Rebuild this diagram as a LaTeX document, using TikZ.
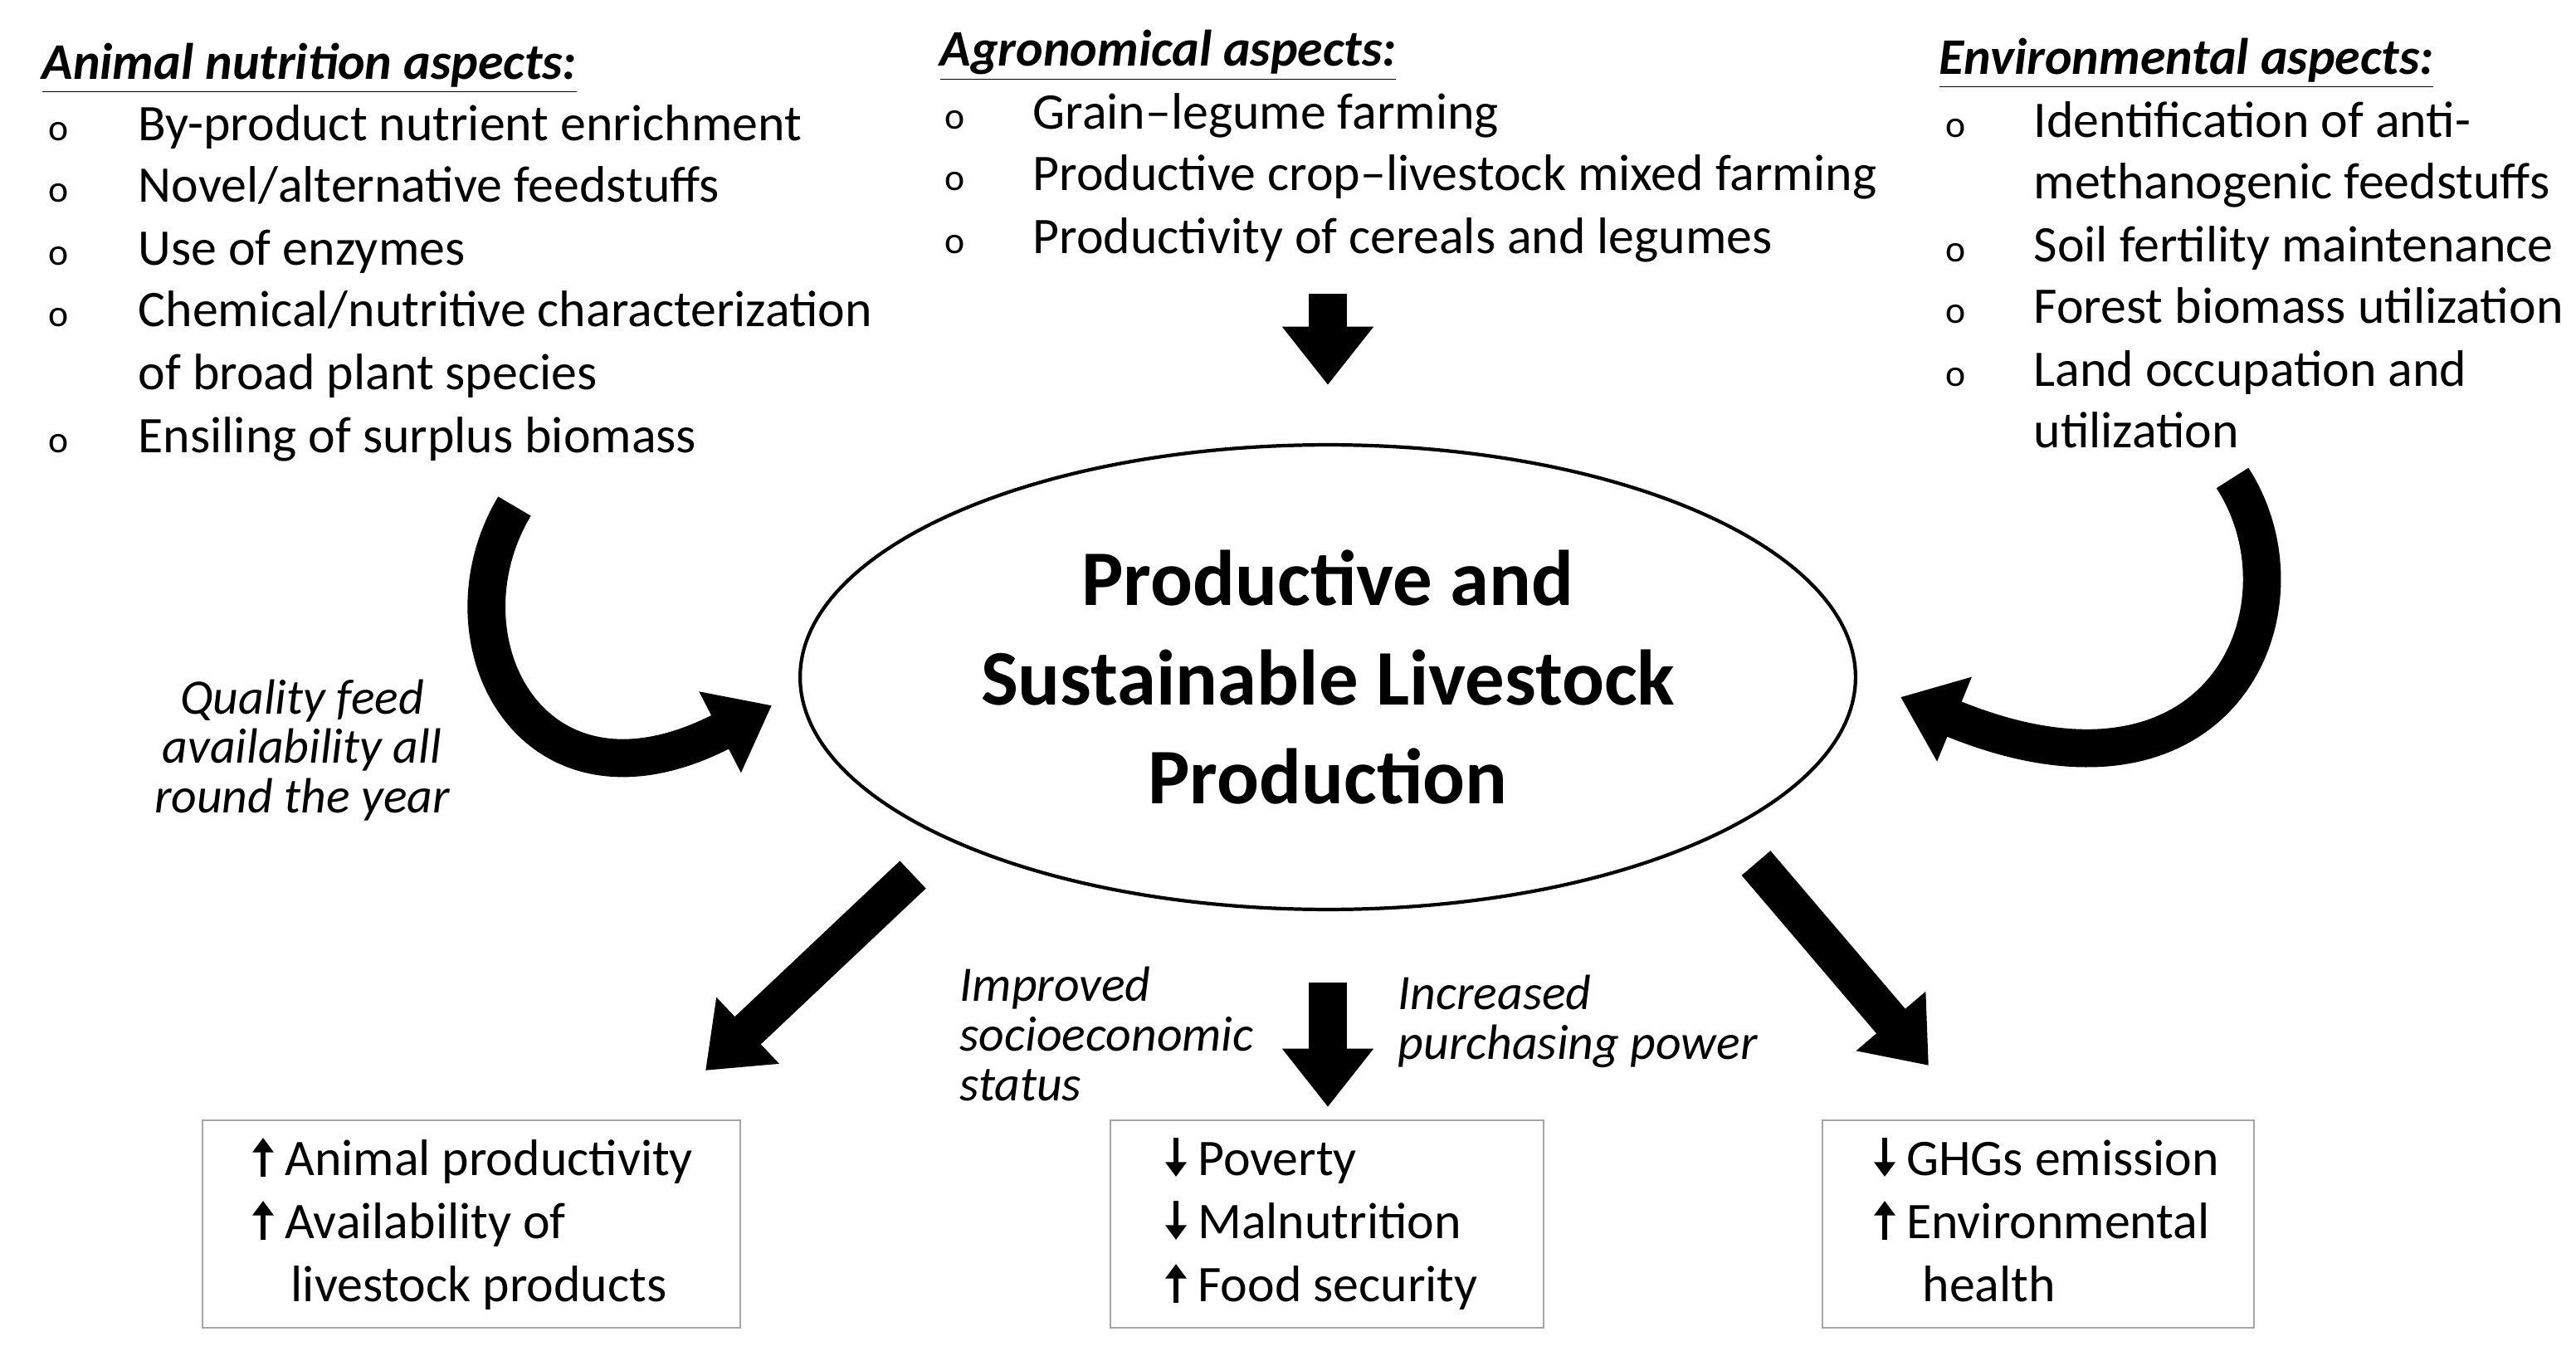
\documentclass[tikz,border=0pt]{standalone}
\usepackage{fontspec}
\setmainfont{Carlito}
\usetikzlibrary{arrows.meta,shapes.geometric}
\newcommand{\uparr}{\tikz[baseline=0pt,x=1cm,y=1cm]\draw[line width=1.8pt,-{Triangle[width=7pt,length=5pt]}] (0,-0.02) -- (0,0.45);}
\newcommand{\dnarr}{\tikz[baseline=0pt,x=1cm,y=1cm]\draw[line width=1.8pt,-{Triangle[width=7pt,length=5pt]}] (0,0.45) -- (0,-0.02);}
\tikzset{
    txt/.style={anchor=base west, inner sep=0pt, font=\fontsize{17.6}{21}\selectfont},
    bul/.style={anchor=base west, inner sep=0pt, font=\fontsize{13}{21}\selectfont},
    head/.style={txt, font=\fontsize{17.6}{21}\selectfont\bfseries\itshape},
    note/.style={anchor=base west, inner sep=0pt, align=left, font=\fontsize{17}{17}\selectfont\itshape},
    bigarrow/.style={line width=13pt, -{Triangle[width=30pt,length=20pt]}},
    outbox/.style={draw=gray!70, line width=0.6pt}
}
\begin{document}
\begin{tikzpicture}[x=0.02cm, y=-0.02cm]
    \useasboundingbox (0,0) rectangle (1552,814);
    % Animal nutrition
    \node[head] (anh) at (25,48) {\underline{Animal nutrition aspects:}};
    \foreach \yy/\tt in {85/By-product nutrient enrichment, 122/Novel\slash alternative feedstuffs, 160/Use of enzymes, 197/Chemical\slash nutritive characterization, 273/Ensiling of surplus biomass} {
        \node[bul] at (29,\yy) {o};
        \node[txt] at (83,\yy) {\tt};
    }
    \node[txt] (an5) at (83,235) {of broad plant species};
    % Agronomical
    \node[head] (agh) at (566,40) {\underline{Agronomical aspects:}};
    \foreach \yy/\tt in {78/Grain--legume farming, 115/Productive crop--livestock mixed farming, 153/Productivity of cereals and legumes} {
        \node[bul] at (569,\yy) {o};
        \node[txt] at (622,\yy) {\tt};
    }
    % Environmental
    \node[head] (enh) at (1168,45) {\underline{Environmental aspects:}};
    \foreach \yy/\tt in {83/Identification of anti-, 158/Soil fertility maintenance, 195/Forest biomass utilization, 233/Land occupation and} {
        \node[bul] at (1172,\yy) {o};
        \node[txt] at (1225,\yy) {\tt};
    }
    \node[txt] (en2) at (1225,120) {methanogenic feedstuffs};
    \node[txt] (en6) at (1225,270) {utilization};
    % Centre
    \node[draw, line width=1.2pt, ellipse, minimum width=12.72cm, minimum height=5.6cm, inner sep=0pt,
          align=center, font=\fontsize{27}{34}\selectfont\bfseries] (core) at (800,408)
          {Productive and\\Sustainable Livestock\\Production};
    % Arrows in
    \coordinate (agtop) at (800,177);
    \coordinate (agend) at (800,232);
    \draw[bigarrow] (agtop) -- (agend);
    \coordinate (lst) at (310,305);
    \coordinate (lend) at (465,425);
    \draw[bigarrow] (lst) .. controls (262,385) and (320,500) .. (lend);
    \coordinate (rst) at (1345,288);
    \coordinate (rend) at (1145,420);
    \draw[bigarrow] (rst) .. controls (1395,365) and (1340,500) .. (rend);
    \node[note, align=center, anchor=center] (qual) at (182,452) {Quality feed\\availability all\\round the year};
    % Arrows out
    \coordinate (o1a) at (550,527);
    \coordinate (o1b) at (425,645);
    \draw[bigarrow] (o1a) -- (o1b);
    \coordinate (o2a) at (800,592);
    \coordinate (o2b) at (800,667);
    \draw[bigarrow] (o2a) -- (o2b);
    \coordinate (o3a) at (1058,520);
    \coordinate (o3b) at (1162,642);
    \draw[bigarrow] (o3a) -- (o3b);
    \node[note] (soc) at (578,663) {Improved\\socioeconomic\\status};
    \node[note] (pur) at (842,638) {Increased\\purchasing power};
    % Outcome boxes
    \draw[outbox] (122,675) rectangle (446,800);
    \draw[outbox] (669,675) rectangle (930,800);
    \draw[outbox] (1098,675) rectangle (1358,800);
    \node[txt] (b1a) at (152,708) {\uparr\ Animal productivity};
    \node[txt] (b1b) at (152,746) {\uparr\ Availability of};
    \node[txt] (b1c) at (175,784) {livestock products};
    \node[txt] (b2a) at (702,708) {\dnarr\ Poverty};
    \node[txt] (b2b) at (702,746) {\dnarr\ Malnutrition};
    \node[txt] (b2c) at (702,784) {\uparr\ Food security};
    \node[txt] (b3a) at (1129,708) {\dnarr\ GHGs emission};
    \node[txt] (b3b) at (1129,746) {\uparr\ Environmental};
    \node[txt] (b3c) at (1158,784) {health};
\end{tikzpicture}
\end{document}
